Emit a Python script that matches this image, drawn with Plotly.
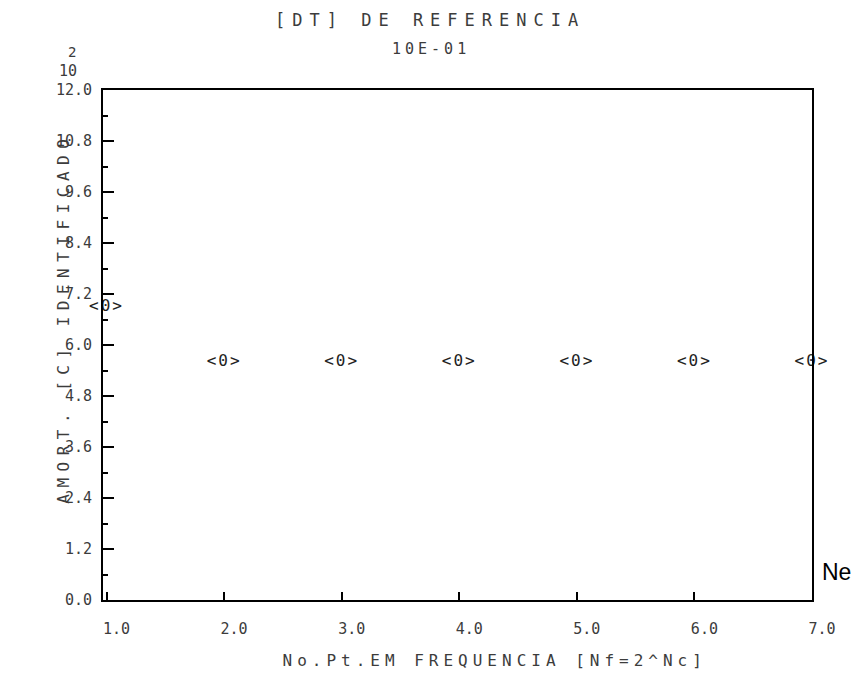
import plotly.graph_objects as go

# Identified damping versus number of frequency points (Nf = 2^Ne)
ne = [1, 2, 3, 4, 5, 6, 7]
amort = [6.9, 5.6, 5.6, 5.6, 5.6, 5.6, 5.6]
marker_text = "&lt;0&gt;"

x_ticks = [1, 2, 3, 4, 5, 6, 7]
y_ticks = [0.0, 1.2, 2.4, 3.6, 4.8, 6.0, 7.2, 8.4, 9.6, 10.8, 12.0]

title = "[DT] DE REFERENCIA"
subtitle = "10E-01"
x_title = "No.Pt.EM FREQUENCIA [Nf=2^Nc]"
y_title = "AMORT. [C] IDENTIFICADO"

W, H = 862, 684
L, R, T, B = 103, 812, 90, 600
MONO = "DejaVu Sans Mono"
INK = "#3c3c3c"


def px(x):
    return (x - L) / (R - L)


def py(y):
    return (B - y) / (B - T)


fig = go.Figure()
fig.add_trace(go.Scatter(
    x=ne, y=amort, mode="text", text=[marker_text] * len(ne),
    textposition="middle center",
    textfont=dict(family=MONO, size=16, color="#222"),
    cliponaxis=False, showlegend=False, hoverinfo="skip",
))

axis_common = dict(
    showline=True, linecolor="black", linewidth=2, mirror=True,
    ticks="inside", tickcolor="black", tickwidth=2,
    showgrid=False, zeroline=False,
    tickfont=dict(family=MONO, size=15, color=INK),
    tickformat=".1f",
)

fig.update_xaxes(
    range=[0.97, 7.0], tickvals=x_ticks, ticklen=8,
    ticklabelshift=10, ticklabelstandoff=14, **axis_common,
)
fig.update_yaxes(
    range=[0.0, 12.0], tickvals=y_ticks, ticklen=11,
    ticklabelstandoff=6,
    minor=dict(dtick=0.6, tick0=0, ticks="inside", ticklen=5,
               tickcolor="black", tickwidth=2),
    **axis_common,
)

ann = [
    dict(text=title, x=px(430), y=py(20), size=17),
    dict(text=subtitle, x=px(431), y=py(49), size=15),
    dict(text="10", x=px(68), y=py(71), size=15),
    dict(text="2", x=px(72), y=py(52), size=14),
    dict(text=x_title, x=px(494), y=py(660), size=16),
    dict(text=y_title, x=px(63), y=py(318), size=16, angle=-90),
]
for a in ann:
    fig.add_annotation(
        text=a["text"], x=a["x"], y=a["y"], xref="paper", yref="paper",
        xanchor="center", yanchor="middle", showarrow=False,
        textangle=a.get("angle", 0),
        font=dict(family=MONO, size=a["size"], color=INK),
    )
fig.add_annotation(
    text="Ne", x=px(836), y=py(572), xref="paper", yref="paper",
    xanchor="center", yanchor="middle", showarrow=False,
    font=dict(family="Liberation Sans", size=23, color="black"),
)

fig.update_layout(
    width=W, height=H,
    margin=dict(l=L, r=W - R, t=T, b=H - B),
    paper_bgcolor="white", plot_bgcolor="white",
)

# Plotter-style wide character spacing for the labels and point glyphs
spacing_js = """
var gd = document.getElementById('{plot_id}');
var sp = {0: 7, 1: 4, 4: 5, 5: 6.5};
function applySpacing() {
  gd.querySelectorAll('g.annotation').forEach(function (g) {
    var i = parseInt(g.getAttribute('data-index'));
    if (sp[i] !== undefined) {
      var t = g.querySelector('text.annotation-text');
      if (t) t.style.letterSpacing = sp[i] + 'px';
    }
  });
  gd.querySelectorAll('g.textpoint text').forEach(function (t) {
    t.style.letterSpacing = '2px';
  });
}
applySpacing();
gd.on('plotly_afterplot', applySpacing);
"""

fig.write_html("out.html", post_script=spacing_js)
